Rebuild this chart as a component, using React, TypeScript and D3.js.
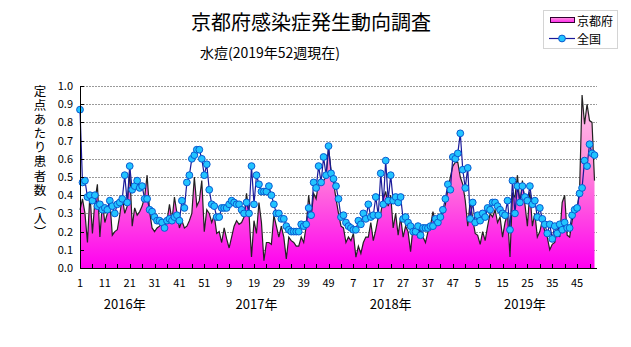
import React from "react";
import * as d3 from "d3";

const title = "京都府感染症発生動向調査";
const subtitle = "水痘(2019年52週現在)";
const seriesNames = ["京都府", "全国"];
const yTitle = "定点あたり患者数（人）";
const yTicks = [0, 0.1, 0.2, 0.3, 0.4, 0.5, 0.6, 0.7, 0.8, 0.9, 1.0];
const xTickLabels = ["1", "11", "21", "31", "41", "51", "9", "19", "29", "39", "49", "7", "17", "27", "37", "47", "5", "15", "25", "35", "45"];
const yearLabels = ["2016年", "2017年", "2018年", "2019年"];
const yearLabelWeekIdx = [18, 71, 125, 179];

// 京都府 (2016 w1 .. 2019 w52)
const kyoto = [
  0.32, 0.38, 0.30, 0.14, 0.41, 0.19, 0.37, 0.46, 0.17, 0.36,
  0.25, 0.30, 0.37, 0.18, 0.20, 0.21, 0.29, 0.39, 0.30, 0.34,
  0.54, 0.23, 0.33, 0.29, 0.31, 0.34, 0.39, 0.51, 0.31, 0.22,
  0.20, 0.22, 0.23, 0.25, 0.25, 0.26, 0.35, 0.26, 0.39, 0.30,
  0.22, 0.26, 0.22, 0.23, 0.26, 0.30, 0.50, 0.34, 0.37, 0.48,
  0.20, 0.32, 0.30, 0.25, 0.29, 0.19, 0.20, 0.14, 0.22, 0.16,
  0.11, 0.17, 0.23, 0.26, 0.24, 0.25, 0.28, 0.41, 0.30, 0.06,
  0.26, 0.19, 0.36, 0.25, 0.04, 0.14, 0.14, 0.13, 0.29, 0.23,
  0.17, 0.23, 0.17, 0.05, 0.17, 0.15, 0.14, 0.12, 0.12, 0.17,
  0.14, 0.23, 0.40, 0.28, 0.41, 0.38, 0.47, 0.47, 0.48, 0.50,
  0.66, 0.54, 0.47, 0.38, 0.30, 0.23, 0.22, 0.14, 0.17, 0.15,
  0.19, 0.06, 0.12, 0.08, 0.14, 0.17, 0.17, 0.25, 0.15, 0.21,
  0.28, 0.30, 0.38, 0.42, 0.34, 0.40, 0.22, 0.30, 0.18, 0.28,
  0.17, 0.23, 0.20, 0.09, 0.23, 0.20, 0.17, 0.21, 0.17, 0.14,
  0.20, 0.23, 0.31, 0.25, 0.28, 0.27, 0.30, 0.35, 0.43, 0.50,
  0.56, 0.58, 0.58, 0.50, 0.46, 0.37, 0.23, 0.37, 0.27, 0.19,
  0.18, 0.13, 0.20, 0.15, 0.23, 0.30, 0.28, 0.32, 0.25, 0.28,
  0.17, 0.25, 0.30, 0.06, 0.41, 0.39, 0.51, 0.35, 0.48, 0.35,
  0.23, 0.42, 0.23, 0.30, 0.17, 0.20, 0.26, 0.20, 0.17, 0.10,
  0.13, 0.14, 0.21, 0.17, 0.36, 0.40, 0.18, 0.17, 0.26, 0.31,
  0.32, 0.43, 0.95, 0.79, 0.90, 0.81, 0.80, 0.48,
];

// 全国
const national = [
  0.87, 0.47, 0.48, 0.39, 0.40, 0.37, 0.40, 0.34, 0.35, 0.32,
  0.33, 0.32, 0.37, 0.34, 0.30, 0.35, 0.36, 0.38, 0.51, 0.36,
  0.56, 0.43, 0.45, 0.48, 0.44, 0.45, 0.38, 0.38, 0.32, 0.31,
  0.28, 0.26, 0.26, 0.25, 0.22, 0.26, 0.27, 0.26, 0.28, 0.29,
  0.26, 0.37, 0.33, 0.47, 0.51, 0.60, 0.62, 0.65, 0.65, 0.60,
  0.51, 0.57, 0.43, 0.35, 0.34, 0.28, 0.28, 0.33, 0.33, 0.33,
  0.35, 0.37, 0.36, 0.35, 0.35, 0.32, 0.30, 0.36, 0.30, 0.56,
  0.35, 0.51, 0.46, 0.42, 0.42, 0.42, 0.45, 0.40, 0.35, 0.30,
  0.30, 0.27, 0.27, 0.23, 0.21, 0.20, 0.20, 0.20, 0.20, 0.24,
  0.23, 0.24, 0.33, 0.29, 0.47, 0.44, 0.56, 0.47, 0.61, 0.51,
  0.67, 0.52, 0.49, 0.45, 0.38, 0.28, 0.29, 0.25, 0.23, 0.22,
  0.21, 0.21, 0.26, 0.24, 0.30, 0.27, 0.35, 0.28, 0.29, 0.39,
  0.29, 0.52, 0.35, 0.59, 0.37, 0.51, 0.37, 0.39, 0.36, 0.39,
  0.27, 0.28, 0.25, 0.23, 0.20, 0.20, 0.23, 0.18, 0.22, 0.22,
  0.22, 0.23, 0.23, 0.27, 0.25, 0.28, 0.32, 0.38, 0.46, 0.43,
  0.61, 0.60, 0.63, 0.74, 0.54, 0.44, 0.55, 0.27, 0.36, 0.25,
  0.29, 0.26, 0.30, 0.28, 0.33, 0.32, 0.36, 0.36, 0.34, 0.32,
  0.30, 0.29, 0.37, 0.21, 0.48, 0.30, 0.45, 0.36, 0.45, 0.39,
  0.37, 0.45, 0.35, 0.37, 0.28, 0.33, 0.27, 0.24, 0.19, 0.24,
  0.16, 0.23, 0.19, 0.24, 0.21, 0.25, 0.22, 0.22, 0.29, 0.32,
  0.33, 0.41, 0.44, 0.59, 0.56, 0.68, 0.63, 0.62,
];

const W = 631;
const H = 347;
const FONT = "'Noto Sans CJK JP', 'Noto Sans', sans-serif";

export default function App() {
  const left = 80;
  const right = 597;
  const bottom = 268;
  const top = 86;

  const x = d3.scaleLinear().domain([0, kyoto.length - 1]).range([left, 594.5]);
  const y = d3.scaleLinear().domain([0, 1]).range([bottom, top]);

  const area = d3
    .area<number>()
    .x((_, i) => x(i))
    .y0(y(0))
    .y1((d) => y(d));
  const kLine = d3
    .line<number>()
    .x((_, i) => x(i))
    .y((d) => y(d));
  const nLine = d3
    .line<number>()
    .x((_, i) => x(i))
    .y((d) => y(d));

  const minorTicks = d3.range(0, kyoto.length, 5);
  const labelIdx = xTickLabels.map((_, k) => k * 10);

  return (
    <div style={{ position: "absolute", left: 0, top: 0 }}>
      <svg width={W} height={H} style={{ display: "block", background: "#fff" }} fontFamily={FONT}>
        <defs>
          <linearGradient id="kyotoFill" x1="0" y1={y(1)} x2="0" y2={y(0)} gradientUnits="userSpaceOnUse">
            <stop offset="0" stopColor="#ffd0ee" />
            <stop offset="0.45" stopColor="#ff88d8" />
            <stop offset="1" stopColor="#ff00f0" />
          </linearGradient>
          <linearGradient id="legFill" x1="0" y1="0" x2="0" y2="1">
            <stop offset="0" stopColor="#ff99dd" />
            <stop offset="1" stopColor="#ff22ee" />
          </linearGradient>
        </defs>

        {/* title */}
        <text x={311} y={30} textAnchor="middle" fontSize={20} fill="#000">
          {title}
        </text>
        <text x={200} y={58} fontSize={14} fill="#000">
          {subtitle}
        </text>

        {/* gridlines */}
        {yTicks.slice(1).map((t) => (
          <line
            key={"g" + t}
            x1={left}
            x2={right}
            y1={Math.round(y(t)) + 0.5}
            y2={Math.round(y(t)) + 0.5}
            stroke="#9a9a9a"
            strokeDasharray="2,1"
            strokeWidth={1}
          />
        ))}

        {/* area */}
        <path d={area(kyoto) || ""} fill="url(#kyotoFill)" />
        <path d={kLine(kyoto) || ""} fill="none" stroke="#222" strokeWidth={1.2} />

        {/* national */}
        <path d={nLine(national) || ""} fill="none" stroke="#1a1a9a" strokeWidth={1.2} />
        {national.map((v, i) => (
          <circle key={"n" + i} cx={x(i)} cy={y(v)} r={3.4} fill="#22c4ff" stroke="#0a5ad0" strokeWidth={1} />
        ))}

        {/* axes */}
        <line x1={left + 0.5} x2={left + 0.5} y1={top} y2={bottom + 0.5} stroke="#000" />
        <line x1={left} x2={right} y1={bottom + 0.5} y2={bottom + 0.5} stroke="#000" />
        {yTicks.map((t) => (
          <line key={"yt" + t} x1={left} x2={left + 4} y1={Math.round(y(t)) + 0.5} y2={Math.round(y(t)) + 0.5} stroke="#000" />
        ))}
        {minorTicks.map((i) => (
          <line key={"xt" + i} x1={Math.round(x(i)) + 0.5} x2={Math.round(x(i)) + 0.5} y1={bottom} y2={bottom - 4} stroke="#000" />
        ))}

        {/* y tick labels */}
        {yTicks.map((t) => (
          <text key={"yl" + t} x={73} y={y(t) + 4} textAnchor="end" fontSize={11} fill="#000">
            {t.toFixed(1)}
          </text>
        ))}

        {/* x tick labels */}
        {xTickLabels.map((lab, k) => (
          <text key={"xl" + k} x={x(labelIdx[k])} y={287} textAnchor="middle" fontSize={11} fill="#000">
            {lab}
          </text>
        ))}

        {/* year labels */}
        {yearLabels.map((lab, k) => (
          <text key={"yr" + k} x={x(yearLabelWeekIdx[k])} y={309} textAnchor="middle" fontSize={13} fill="#000">
            {lab}
          </text>
        ))}

        {/* y axis title (vertical) */}
        <text
          x={40}
          y={85}
          fontSize={12.5}
          fill="#000"
          style={{ writingMode: "vertical-rl", letterSpacing: "1.6px" }}
        >
          {yTitle}
        </text>

        {/* legend */}
        <rect x={543.5} y={10.5} width={74} height={38} fill="#fff" stroke="#a8a8a8" strokeDasharray="1,1" />
        <rect x={550.5} y={17.5} width={24} height={5} fill="url(#legFill)" stroke="#300030" />
        <text x={577} y={20} dominantBaseline="central" fontSize={12} fill="#000">
          {seriesNames[0]}
        </text>
        <line x1={549} x2={575} y1={38.5} y2={38.5} stroke="#1a1a9a" strokeWidth={1.2} />
        <circle cx={562} cy={38.5} r={3.4} fill="#22c4ff" stroke="#0a5ad0" />
        <text x={577} y={38.5} dominantBaseline="central" fontSize={12} fill="#000">
          {seriesNames[1]}
        </text>
      </svg>
    </div>
  );
}
